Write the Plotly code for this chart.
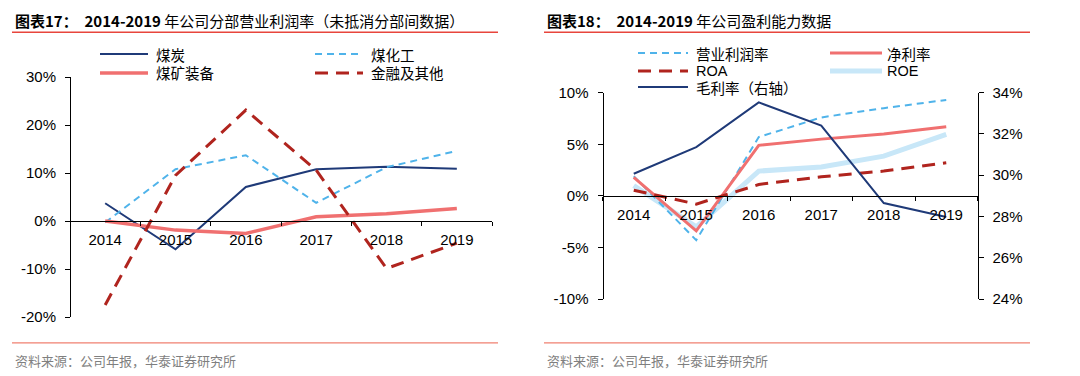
import plotly.graph_objects as go

# page is rendered with an 8px body margin; figure sized to fit the viewport
OFF = 8
W, H = 1080 - OFF, 376 - OFF

years = ["2014", "2015", "2016", "2017", "2018", "2019"]

# Left chart: segment operating margins (%)
coal = [3.7, -5.9, 7.1, 10.8, 11.3, 10.9]
coal_chem = [-0.3, 10.8, 13.7, 3.8, 11.2, 14.6]
mining_equip = [0.0, -1.9, -2.6, 0.9, 1.5, 2.6]
finance_other = [-17.5, 9.5, 23.1, 10.6, -9.9, -4.6]

# Right chart: profitability (%)
op_margin = [1.9, -4.3, 5.7, 7.6, 8.5, 9.3]
net_margin = [1.8, -3.4, 4.9, 5.5, 6.0, 6.7]
roa = [0.55, -0.8, 1.1, 1.85, 2.4, 3.2]
roe = [1.0, -3.0, 2.4, 2.8, 3.85, 5.95]
gross_margin = [30.07, 31.36, 33.53, 32.41, 28.65, 27.97]

left_yticks = [-20, -10, 0, 10, 20, 30]
right_yticks = [-10, -5, 0, 5, 10]
right_y2ticks = [24, 26, 28, 30, 32, 34]

C_DARKBLUE = "#1F3A78"
C_LIGHTBLUE = "#4FB3EA"
C_SALMON = "#F07070"
C_DARKRED = "#B0241E"
C_PALEBLUE = "#C8E7F8"

FONT = "Liberation Sans, Arial, sans-serif"
CJK = "Noto Sans CJK SC"


def px(x):
    return (x - OFF) / W


def py(y):
    return 1 - (y - OFF) / H


fig = go.Figure()

# ---- left chart traces ----
fig.add_trace(go.Scatter(x=years, y=coal, mode="lines", line=dict(color=C_DARKBLUE, width=2),
                         xaxis="x", yaxis="y", name="煤炭"))
fig.add_trace(go.Scatter(x=years, y=coal_chem, mode="lines", line=dict(color=C_LIGHTBLUE, width=2, dash="7px,5px"),
                         xaxis="x", yaxis="y", name="煤化工"))
fig.add_trace(go.Scatter(x=years, y=mining_equip, mode="lines", line=dict(color=C_SALMON, width=3.5),
                         xaxis="x", yaxis="y", name="煤矿装备"))
fig.add_trace(go.Scatter(x=years, y=finance_other, mode="lines", line=dict(color=C_DARKRED, width=3, dash="13px,8px"),
                         xaxis="x", yaxis="y", name="金融及其他"))

# ---- right chart traces ----
fig.add_trace(go.Scatter(x=years, y=roe, mode="lines", line=dict(color=C_PALEBLUE, width=5),
                         xaxis="x2", yaxis="y3", name="ROE"))
fig.add_trace(go.Scatter(x=years, y=op_margin, mode="lines", line=dict(color=C_LIGHTBLUE, width=2, dash="7px,5px"),
                         xaxis="x2", yaxis="y3", name="营业利润率"))
fig.add_trace(go.Scatter(x=years, y=net_margin, mode="lines", line=dict(color=C_SALMON, width=3),
                         xaxis="x2", yaxis="y3", name="净利率"))
fig.add_trace(go.Scatter(x=years, y=roa, mode="lines", line=dict(color=C_DARKRED, width=3, dash="13px,8px"),
                         xaxis="x2", yaxis="y3", name="ROA"))
fig.add_trace(go.Scatter(x=years, y=gross_margin, mode="lines", line=dict(color=C_DARKBLUE, width=2),
                         xaxis="x2", yaxis="y4", name="毛利率（右轴）"))

tickfont = dict(family=FONT, size=15, color="#000000")

# left plot geometry (page pixels)
L_x0, L_x1 = 70, 492
L_y0, L_y1 = 77, 317  # top, bottom
L_zero = 221
# right plot geometry
R_x0, R_x1 = 602.5, 977.5
R_y0, R_y1 = 92.7, 299
R_zero = 195.7

common_axis = dict(showgrid=False, zeroline=False, showline=True, linecolor="#000000", linewidth=1,
                   ticks="outside", tickcolor="#000000", tickfont=tickfont, automargin=False)

fig.update_layout(
    width=W, height=H,
    margin=dict(l=0, r=0, t=0, b=0, pad=0, autoexpand=False),
    paper_bgcolor="white", plot_bgcolor="white",
    showlegend=False,
    xaxis=dict(domain=[px(L_x0), px(L_x1)], anchor="free", position=py(L_zero),
               type="category", range=[-0.5, 5.5], tickson="boundaries", ticklen=4,
               ticklabelstandoff=5, **common_axis),
    yaxis=dict(domain=[py(L_y1), py(L_y0)], anchor="free", position=px(L_x0),
               range=[-20, 30], tickvals=left_yticks, ticktext=[f"{v}%" for v in left_yticks],
               ticklen=5, ticklabelstandoff=6, **common_axis),
    xaxis2=dict(domain=[px(R_x0), px(R_x1)], anchor="free", position=py(R_zero),
                type="category", range=[-0.5, 5.5], tickson="boundaries", ticklen=4,
                ticklabelstandoff=5, **common_axis),
    yaxis3=dict(domain=[py(R_y1), py(R_y0)], anchor="free", position=px(R_x0),
                range=[-10, 10], tickvals=right_yticks, ticktext=[f"{v}%" for v in right_yticks],
                ticklen=5, ticklabelstandoff=6, **common_axis),
    yaxis4=dict(domain=[py(R_y1), py(R_y0)], anchor="free", position=px(R_x1), overlaying="y3",
                side="right", range=[24, 34], tickvals=right_y2ticks,
                ticktext=[f"{v}%" for v in right_y2ticks],
                ticklen=5, ticklabelstandoff=6, **common_axis),
)

shapes = []
annotations = []

# titles, separator lines, sources
for x0, x1, title in [
    (12, 498, "<b>图表17：  2014-2019</b> 年公司分部营业利润率（未抵消分部间数据）"),
    (544, 1030, "<b>图表18：  2014-2019</b> 年公司盈利能力数据"),
]:
    annotations.append(dict(x=px(x0 + 1), y=py(20.5), xref="paper", yref="paper", xanchor="left",
                            yanchor="middle", showarrow=False, text=title,
                            font=dict(family=CJK, size=15, color="#000000")))
    shapes.append(dict(type="line", xref="paper", yref="paper", x0=px(x0), x1=px(x1),
                       y0=py(32.3), y1=py(32.3), line=dict(color="#E8453C", width=1.5)))
    shapes.append(dict(type="line", xref="paper", yref="paper", x0=px(x0), x1=px(x1),
                       y0=py(342.8), y1=py(342.8), line=dict(color="#F08070", width=1.2)))
    annotations.append(dict(x=px(x0 + 1), y=py(360.5), xref="paper", yref="paper", xanchor="left",
                            yanchor="middle", showarrow=False, text="资料来源：公司年报，华泰证券研究所",
                            font=dict(family=CJK, size=13, color="#7F7F7F")))

# manual legends
legend_items = [
    # (x_start, x_end, y, text_x, color, width, dash, label)
    (100, 148, 54, 154, C_DARKBLUE, 2, "solid", "煤炭"),
    (315, 363, 54, 369, C_LIGHTBLUE, 2, "7px,5px", "煤化工"),
    (100, 148, 73, 154, C_SALMON, 3.5, "solid", "煤矿装备"),
    (315, 363, 73, 369, C_DARKRED, 3, "13px,8px", "金融及其他"),
    (638, 688, 53, 694, C_LIGHTBLUE, 2, "7px,5px", "营业利润率"),
    (830, 882, 53, 885, C_SALMON, 3, "solid", "净利率"),
    (638, 688, 71, 694, C_DARKRED, 3, "13px,8px", "ROA"),
    (830, 882, 71, 885, C_PALEBLUE, 5, "solid", "ROE"),
    (638, 688, 87, 694, C_DARKBLUE, 2, "solid", "毛利率（右轴）"),
]
for xs, xe, yy, tx, col, wd, ds, lab in legend_items:
    shapes.append(dict(type="line", xref="paper", yref="paper", x0=px(xs), x1=px(xe),
                       y0=py(yy), y1=py(yy), line=dict(color=col, width=wd, dash=ds)))
    fam = FONT if lab.isascii() else CJK
    annotations.append(dict(x=px(tx), y=py(yy), xref="paper", yref="paper", xanchor="left",
                            yanchor="middle", showarrow=False, text=lab,
                            font=dict(family=fam, size=14.5, color="#000000")))

fig.update_layout(shapes=shapes, annotations=annotations)

fig.write_html("out.html")
